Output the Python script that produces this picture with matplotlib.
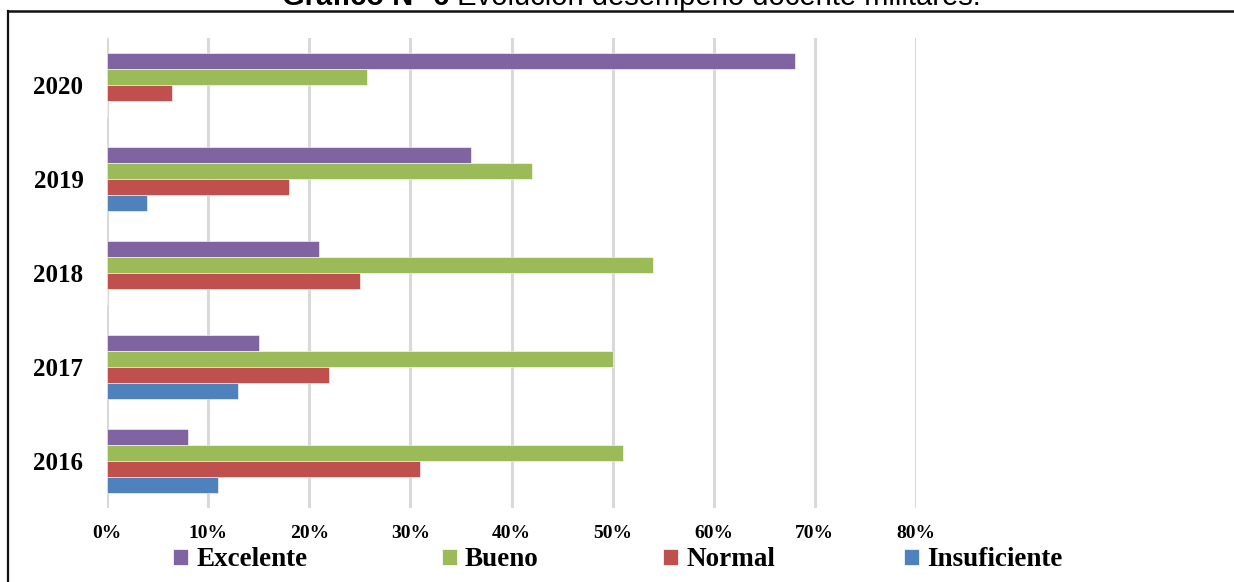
"""Horizontal grouped bars: teacher performance by year"""

import numpy as np
import matplotlib.pyplot as plt
from matplotlib.lines import Line2D
from matplotlib.patches import Patch

years = ["2016", "2017", "2018", "2019", "2020"]
categories = ["Excelente", "Bueno", "Normal", "Insuficiente"]
excelente = [8, 15, 21, 36, 68]
bueno = [51, 50, 54, 42, 25.7]
normal = [31, 22, 25, 18, 6.4]
insuficiente = [11, 13, 0, 4, 0]
xticks = [0, 10, 20, 30, 40, 50, 60, 70, 80]

colors = ["#8064A2", "#9BBB59", "#C0504D", "#4F81BD"]

W, H = 1234, 582
fig = plt.figure(figsize=(W / 100, H / 100), dpi=100)
fig.patch.set_facecolor("white")

# axes placed in pixel terms: x from 107 to 916, y from 38 to 508
ax = fig.add_axes([107 / W, 1 - 508 / H, (916 - 107) / W, (508 - 38) / H])

y = np.arange(len(years))
h = 0.17
series = [excelente, bueno, normal, insuficiente]
offsets = [1.5 * h, 0.5 * h, -0.5 * h, -1.5 * h]
for vals, off, col, lab in zip(series, offsets, colors, categories):
    ax.barh(y + off, vals, height=h, color=col, label=lab, zorder=3,
            edgecolor="white", linewidth=0.4)

ax.set_xlim(0, 80)
ax.set_ylim(-0.5, 4.5)
ax.set_xticks(xticks)
ax.set_xticklabels([f"{t}%" for t in xticks])
ax.set_yticks(y)
ax.set_yticklabels(years)
ax.tick_params(axis="both", length=0)
ax.tick_params(axis="x", pad=12)
ax.tick_params(axis="y", pad=17)
for lbl in ax.get_xticklabels():
    lbl.set_fontfamily("Liberation Serif")
    lbl.set_fontweight("bold")
    lbl.set_fontsize(14)
for lbl in ax.get_yticklabels():
    lbl.set_fontfamily("Liberation Serif")
    lbl.set_fontweight("bold")
    lbl.set_fontsize(18)

for s in ax.spines.values():
    s.set_visible(False)
for t in xticks:
    ax.axvline(t, color="#d9d9d9", linewidth=2.2, zorder=1)

# one legend entry per slot so the spacing stays even
legend_x = [173, 442, 663, 904]
for lab, col, lx in zip(categories, colors, legend_x):
    fig.legend(handles=[Patch(facecolor=col, edgecolor="white", linewidth=0.5, label=lab)],
               loc="center left", bbox_to_anchor=(lx / W, 1 - 560 / H),
               frameon=False, borderpad=0, borderaxespad=0,
               handlelength=0.55, handleheight=0.55, handletextpad=0.3,
               prop={"family": "Liberation Serif", "weight": "bold", "size": 19.5})

# outer frame (left and top edges)
fig.add_artist(Line2D([8 / W, 8 / W], [0, 1 - 11 / H], transform=fig.transFigure,
                      color="#111111", linewidth=1.6))
fig.add_artist(Line2D([8 / W, 1], [1 - 11 / H, 1 - 11 / H], transform=fig.transFigure,
                      color="#111111", linewidth=1.8))

# title, partly cut by the top edge
t1 = fig.text(282 / W, 1 - 5 / H, "Gráfico N° 6", fontfamily="Liberation Sans",
              fontweight="bold", fontsize=21, va="baseline", ha="left")
fig.canvas.draw()
bb = t1.get_window_extent()
fig.text(bb.x1 / W, 1 - 5 / H, " Evolución desempeño docente militares.",
         fontfamily="Liberation Sans", fontsize=21, va="baseline", ha="left")

fig.savefig("out.png", dpi=100)
